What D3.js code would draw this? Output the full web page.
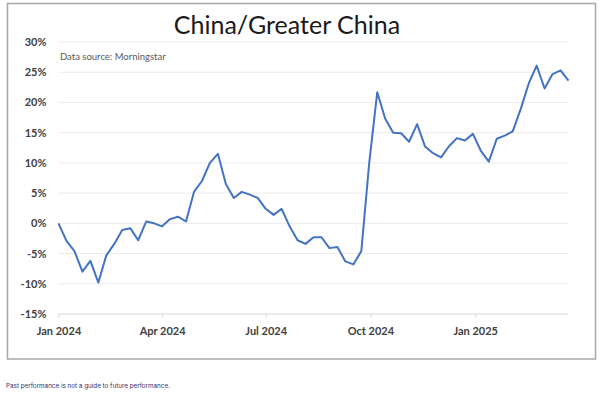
<!DOCTYPE html>
<html>
<head>
<meta charset="utf-8">
<script src="https://cdn.jsdelivr.net/npm/d3@7"></script>
<style>
  html, body { margin: 0; padding: 0; background: #fff; }
  svg { display: block; }
</style>
</head>
<body>
<svg id="chart" width="600" height="396"></svg>
<script>
// weekly returns since first week of Jan 2024 (%)
const startDate = new Date(2024, 0, 1);
const returns = [
  0, -2.9, -4.6, -8.0, -6.2, -9.8, -5.3, -3.4, -1.1, -0.8,
  -2.8, 0.3, 0.0, -0.5, 0.7, 1.1, 0.3, 5.2, 7.0, 10.0,
  11.5, 6.5, 4.2, 5.2, 4.75, 4.2, 2.4, 1.4, 2.4, -0.5,
  -2.8, -3.4, -2.3, -2.3, -4.1, -3.9, -6.3, -6.8, -4.6, 10.1,
  21.7, 17.3, 15.0, 14.9, 13.5, 16.4, 12.7, 11.6, 10.9, 12.75,
  14.1, 13.7, 14.8, 12.0, 10.2, 14.0, 14.5, 15.2, 18.9, 23.1,
  26.1, 22.3, 24.7, 25.3, 23.6
];
const yTicks = [-15, -10, -5, 0, 5, 10, 15, 20, 25, 30];
const xTickLabels = ["Jan 2024", "Apr 2024", "Jul 2024", "Oct 2024", "Jan 2025"];

// Jan 1 2024 is a Monday
const dates = d3.timeMonday.range(startDate, d3.timeDay.offset(startDate, 7 * returns.length))
  .slice(0, returns.length);
const data = dates.map((d, i) => ({ date: d, value: returns[i] }));

const svg = d3.select("#chart");

svg.append("rect")
  .attr("width", 600).attr("height", 396)
  .attr("fill", "#fff");

// chart frame
svg.append("rect")
  .attr("x", 7.5).attr("y", 3.5)
  .attr("width", 588).attr("height", 355.5)
  .attr("fill", "#fff")
  .attr("stroke", "#a6a6a6")
  .attr("stroke-width", 1.5);

const x = d3.scaleTime()
  .domain([dates[0], dates[dates.length - 1]])
  .range([58.5, 568.5]);

const y = d3.scaleLinear()
  .domain([-15, 30])
  .range([314, 42]);

// grid
svg.append("g")
  .selectAll("line")
  .data(yTicks)
  .enter()
  .append("line")
  .attr("x1", x.range()[0]).attr("x2", x.range()[1])
  .attr("y1", d => y(d)).attr("y2", d => y(d))
  .attr("stroke", d => d === -15 ? "#d9d9d9" : "#ebebeb")
  .attr("stroke-width", 1);

// y axis labels
const yAxis = d3.axisLeft(y)
  .tickValues(yTicks)
  .tickFormat(d => d + "%")
  .tickSize(0)
  .tickPadding(12);

svg.append("g")
  .attr("transform", `translate(${x.range()[0]},0)`)
  .call(yAxis)
  .call(g => g.select(".domain").remove())
  .call(g => g.selectAll("text")
    .attr("font-family", "Lato, 'Open Sans', sans-serif")
    .attr("font-weight", 700)
    .attr("font-size", 11)
    .attr("fill", "#404040"));

// x axis
const xTickDates = d3.timeMonth.every(3).range(dates[0], dates[dates.length - 1]);
const xAxis = d3.axisBottom(x)
  .tickValues(xTickDates)
  .tickFormat((d, i) => xTickLabels[i])
  .tickSize(4)
  .tickPadding(9);

svg.append("g")
  .attr("transform", `translate(0,${y(-15)})`)
  .call(xAxis)
  .call(g => g.select(".domain").remove())
  .call(g => g.selectAll(".tick line").attr("stroke", "#d9d9d9"))
  .call(g => g.selectAll("text")
    .attr("font-family", "Lato, 'Open Sans', sans-serif")
    .attr("font-weight", 700)
    .attr("font-size", 11)
    .attr("fill", "#404040"));

// line
const line = d3.line()
  .x(d => x(d.date))
  .y(d => y(d.value));

svg.append("path")
  .datum(data)
  .attr("d", line)
  .attr("fill", "none")
  .attr("stroke", "#4472c4")
  .attr("stroke-width", 2)
  .attr("stroke-linejoin", "round");

// title
svg.append("text")
  .attr("x", 287)
  .attr("y", 34)
  .attr("text-anchor", "middle")
  .attr("font-family", "Lato, 'Open Sans', sans-serif")
  .attr("font-size", 25)
  .attr("fill", "#1a1a1a")
  .text("China/Greater China");

svg.append("text")
  .attr("x", 60)
  .attr("y", 60)
  .attr("font-family", "Lato, 'Open Sans', sans-serif")
  .attr("font-size", 9.5)
  .attr("fill", "#595959")
  .text("Data source: Morningstar");

svg.append("text")
  .attr("x", 6)
  .attr("y", 388)
  .attr("font-family", "Inter, 'Noto Sans', sans-serif")
  .attr("font-size", 6.3)
  .attr("fill", "#2e2e6e")
  .text("Past performance is not a guide to future performance.");
</script>
</body>
</html>
